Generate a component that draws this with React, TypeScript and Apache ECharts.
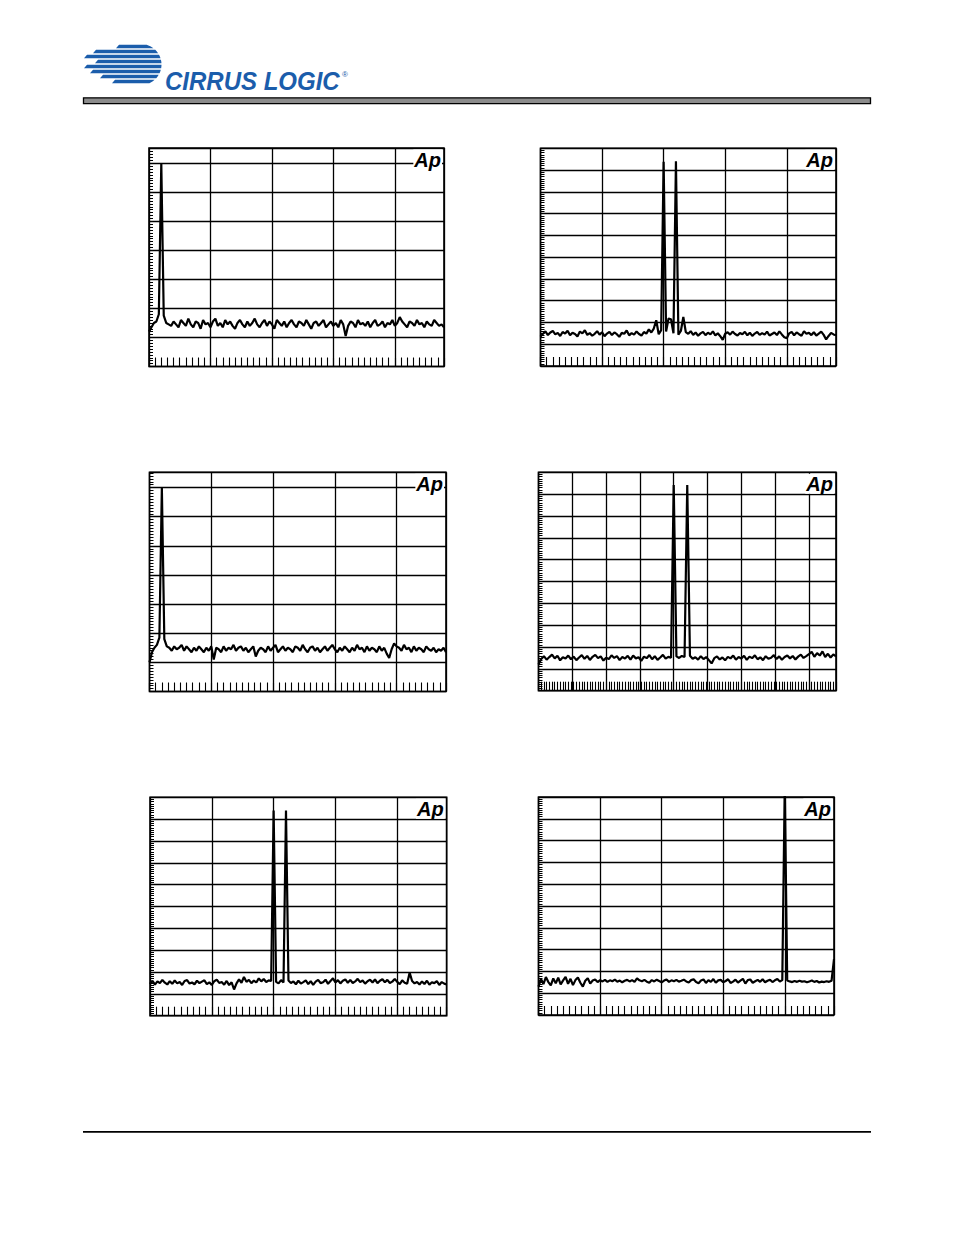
import React, { useEffect, useRef } from "react";
import * as echarts from "echarts";

// Frequency spacing of the plotted FFT points, in kHz
const FREQ_STEP_KHZ = 0.2;

// Panel 1 (top-left): 1 kHz tone, dB values from 0 to 24 kHz
const fft1 = [
  -116, -113, -110, -109, -104, 0, -105, -110,
  -111, -112, -109, -111, -113, -108, -110, -112, -107, -111,
  -113, -109, -110, -114, -108, -111, -110, -113, -109, -107,
  -112, -110, -113, -108, -111, -109, -112, -114, -110, -108,
  -111, -113, -109, -112, -110, -107, -111, -113, -110, -108,
  -112, -109, -111, -114, -108, -110, -112, -109, -113, -110,
  -108, -111, -113, -109, -110, -112, -108, -111, -114, -110,
  -109, -112, -110, -108, -113, -111, -109, -112, -110, -113,
  -108, -111, -119, -112, -109, -110, -113, -108, -111, -110,
  -112, -109, -113, -110, -108, -112, -111, -109, -113, -110,
  -111, -108, -112, -110, -106, -109, -111, -113, -109, -110,
  -112, -108, -111, -110, -113, -109, -111, -112, -108, -110,
  -112, -111, -113,
];

// Panel 2 (top-right): 10 kHz + 11 kHz twin tone, 0 to 24 kHz
const fft2 = [
  -86.5, -85.2, -84.1, -85.8, -84.6, -83.9, -85.5, -84.8, -86.2, -84.4,
  -85.1, -83.8, -85.9, -84.7, -85.3, -86.4, -84.2, -85.0, -83.6, -85.7,
  -84.9, -86.1, -85.2, -84.0, -85.6, -84.5, -86.3, -85.1, -84.3, -85.8,
  -84.6, -85.4, -86.6, -84.8, -85.2, -83.7, -85.9, -84.9, -85.6, -84.1,
  -85.3, -86.0, -84.4, -85.1, -83.2, -84.6, -82.8, -79.0, -85.4, -83.5,
  -6.2, -84.2, -78.2, -78.5, -85.0, -6.0, -85.6, -83.9, -77.5, -84.4,
  -85.2, -84.0, -85.7, -84.6, -86.1, -85.0, -84.3, -85.8, -84.7, -85.5,
  -84.1, -85.9, -85.0, -86.3, -88.0, -85.2, -84.5, -85.6, -84.2, -85.3,
  -86.0, -84.8, -85.4, -84.3, -85.9, -84.7, -86.2, -85.1, -84.4, -85.7,
  -84.9, -85.6, -84.2, -86.0, -85.3, -84.6, -85.8, -84.1, -85.5, -86.8,
  -87.2, -85.0, -84.3, -85.9, -84.6, -85.4, -86.1, -84.0, -85.2, -84.7,
  -85.8, -84.5, -86.0, -85.1, -84.2, -85.7, -87.8, -86.2, -84.8, -85.5,
  -85.9,
];

// Panel 3 (middle-left): 1 kHz tone, 0 to 24 kHz
const fft3 = [
  -120, -113, -110, -108, -103, 0, -104, -109,
  -110, -112, -109, -111, -110, -108, -112, -109, -111, -113,
  -110, -112, -109, -111, -113, -110, -112, -109, -118, -110,
  -111, -113, -109, -112, -110, -111, -108, -112, -110, -109,
  -112, -110, -113, -111, -109, -116, -112, -110, -111, -113,
  -109, -112, -110, -108, -113, -111, -109, -112, -110, -111,
  -113, -109, -110, -112, -108, -111, -113, -110, -109, -112,
  -110, -113, -111, -109, -112, -110, -108, -111, -113, -110,
  -112, -109, -111, -113, -110, -112, -108, -111, -110, -113,
  -109, -112, -110, -111, -113, -109, -112, -110, -114, -117,
  -111, -107, -109, -110, -112, -108, -111, -110, -113, -109,
  -112, -110, -111, -113, -109, -111, -112, -110, -113, -111,
  -112, -110, -113,
];

// Panel 4 (middle-right): 10 kHz + 11 kHz twin tone, 0 to 22 kHz
const fft4 = [
  -88.0, -85.5, -84.2, -85.8, -84.6, -83.5, -85.2, -84.0, -86.1, -84.7,
  -85.3, -83.9, -85.6, -84.4, -86.0, -84.8, -83.7, -85.4, -84.1, -85.9,
  -84.5, -83.6, -85.1, -84.3, -86.2, -84.9, -85.5, -83.8, -85.0, -84.2,
  -86.0, -84.6, -85.3, -84.0, -85.8, -83.9, -85.2, -84.7, -86.3, -84.4,
  -85.1, -83.7, -85.6, -84.2, -85.9, -84.8, -83.6, -85.3, -84.5, -84.9,
  -5.8, -84.3, -85.0, -84.1, -84.6, -5.8, -84.0, -85.4, -84.7, -85.8,
  -84.2, -85.5, -84.6, -86.0, -87.5, -85.1, -84.3, -85.7, -84.8, -86.1,
  -84.5, -85.2, -83.9, -85.8, -84.6, -85.3, -84.0, -85.9, -84.4, -85.1,
  -83.8, -85.6, -84.7, -86.0, -84.2, -85.4, -84.9, -83.7, -85.5, -84.3,
  -85.8, -84.6, -83.9, -85.2, -84.1, -85.7, -84.4, -83.5, -85.0, -84.2,
  -83.3, -82.2, -84.5, -82.8, -83.9, -82.0, -84.6, -83.1, -84.8, -83.4,
  -84.3,
];

// Panel 5 (bottom-left): 10 kHz + 11 kHz twin tone, 0 to 24 kHz
const fft5 = [
  -85.5, -84.0, -85.8, -84.3, -85.1, -83.6, -84.9, -85.7, -84.2, -85.4,
  -83.9, -85.2, -84.6, -85.9, -84.1, -83.7, -85.3, -84.8, -85.6, -84.0,
  -85.1, -84.4, -83.8, -85.5, -84.7, -85.9, -84.2, -83.5, -85.0, -84.6,
  -85.8, -84.1, -86.0, -84.7, -88.0, -85.2, -83.4, -84.9, -82.3, -84.5,
  -83.6, -85.1, -83.9, -84.8, -82.9, -84.3, -83.2, -84.6, -83.8, -84.1,
  -6.1, -84.5, -85.2, -83.7, -84.8, -6.1, -83.9, -85.0, -84.3, -85.6,
  -84.0, -85.3, -84.6, -83.8, -85.5, -84.2, -85.9, -84.4, -83.6, -85.1,
  -84.7, -83.5, -85.4, -84.1, -82.9, -84.8, -83.7, -85.2, -84.0, -83.4,
  -84.9, -83.6, -85.0, -84.3, -83.1, -84.6, -83.9, -85.3, -84.2, -83.5,
  -84.8, -83.4, -85.1, -84.0, -83.3, -84.7, -83.6, -85.0, -84.4, -83.2,
  -84.5, -85.6, -83.8, -84.9, -85.4, -80.3, -84.1, -85.2, -84.6, -85.7,
  -84.3, -85.5, -84.0, -85.8, -84.7, -85.1, -84.2, -85.9, -84.6, -85.3,
  -85.7,
];

// Panel 6 (bottom-right): 20 kHz tone (off scale), 0 to 24 kHz
const fft6 = [
  -87.0, -83.5, -85.8, -82.6, -84.9, -86.4, -83.2, -85.5, -82.9, -86.0,
  -84.1, -82.5, -85.7, -83.4, -86.3, -84.0, -82.8, -85.2, -87.0, -84.3,
  -83.1, -85.6, -84.2, -83.7, -84.9, -84.0, -84.6, -83.9, -84.8, -84.1,
  -84.5, -83.8, -84.7, -84.2, -85.0, -84.3, -83.9, -84.6, -84.0, -84.8,
  -83.2, -84.1, -84.5, -83.9, -84.7, -85.2, -84.0, -84.6, -83.8, -84.4,
  -85.0, -84.2, -83.7, -84.8, -84.1, -84.5, -83.9, -84.7, -84.3, -83.8,
  -84.6, -85.1, -84.0, -83.6, -84.9, -85.4, -84.2, -83.7, -85.3, -84.0,
  -84.8, -83.5, -85.2, -84.1, -83.9, -85.0, -84.4, -83.6, -85.3, -84.7,
  -83.8, -85.1, -84.2, -83.4, -85.6, -84.0, -83.7, -85.2, -84.5, -83.9,
  -84.8, -83.6, -85.0, -84.3, -83.8, -84.9, -84.1, -83.5, -84.6, -84.0,
  5.0, -84.2, -84.6, -84.9, -84.4, -84.8, -84.3, -84.7, -84.5, -85.0,
  -84.6, -84.2, -84.8, -84.4, -85.1, -84.7, -84.9, -84.5, -84.8, -84.3,
  -74.4,
];

// Axis scales (kHz / dB)
const SCALE_A = { xMax: 24, xStep: 5, xMinor: 0.5, yMin: -140, yMax: 10.5, yStep: 20, yMinor: 2 };
const SCALE_B = { xMax: 24, xStep: 5, xMinor: 0.5, yMin: -100, yMax: 0, yStep: 10, yMinor: 1 };
const SCALE_C = { xMax: 22, xStep: 2.5, xMinor: 0.2, yMin: -100, yMax: 0, yStep: 10, yMinor: 1 };

// Panel layout (pixels)
const panels = [
  { data: fft1, scale: SCALE_A, left: 149, top: 148, right: 444, bottom: 366.5 },
  { data: fft2, scale: SCALE_B, left: 540.5, top: 148.3, right: 836, bottom: 366 },
  { data: fft3, scale: SCALE_A, left: 149.5, top: 472.3, right: 446, bottom: 691.5 },
  { data: fft4, scale: SCALE_C, left: 538.5, top: 472.3, right: 836, bottom: 690.7 },
  { data: fft5, scale: SCALE_B, left: 150, top: 797.3, right: 446.7, bottom: 1015.7 },
  { data: fft6, scale: SCALE_B, left: 538.5, top: 797, right: 834, bottom: 1015 },
];

// Cirrus Logic stripe mark
function buildLogoPath(): string {
  const cx = 141, cy = 64.5, r = 20.5, h = 3.4;
  const stripes = [
    { y: 44.8, left: 116 },
    { y: 49.8, left: 93 },
    { y: 54.8, left: 84 },
    { y: 59.8, left: 95 },
    { y: 64.8, left: 84 },
    { y: 69.8, left: 90 },
    { y: 74.8, left: 100 },
    { y: 79.8, left: 112 },
  ];
  const xr = (y: number) => cx + Math.sqrt(Math.max(0, r * r - (y - cy) * (y - cy)));
  let d = "";
  for (const s of stripes) {
    const y0 = s.y, y1 = s.y + h;
    const ym = (y0 + y1) / 2;
    d += `M${(s.left + 3).toFixed(2)} ${y0.toFixed(2)} L${xr(y0).toFixed(2)} ${y0.toFixed(2)} L${xr(ym).toFixed(2)} ${ym.toFixed(2)} L${xr(y1).toFixed(2)} ${y1.toFixed(2)} L${s.left.toFixed(2)} ${y1.toFixed(2)} Z `;
  }
  return d;
}
echarts.graphic.registerShape("cirrusLogo", echarts.graphic.extendPath(buildLogoPath(), {}) as any);

export default function App() {
  const ref = useRef<HTMLDivElement>(null);

  useEffect(() => {
    document.body.style.margin = "0";
    document.body.style.overflow = "hidden";
    if (!ref.current) return;
    const chart = echarts.init(ref.current, undefined, { renderer: "svg" });

    const grids: any[] = [];
    const xAxes: any[] = [];
    const yAxes: any[] = [];
    const series: any[] = [];
    const graphics: any[] = [];

    panels.forEach((p, i) => {
      const s = p.scale;
      grids.push({
        left: p.left,
        top: p.top,
        width: p.right - p.left,
        height: p.bottom - p.top,
        show: true,
        backgroundColor: "#fff",
        borderColor: "#000",
        borderWidth: 1.6,
      });
      const noLine = { axisLine: { show: false, onZero: false }, axisLabel: { show: false } };
      // tick axes (minor divisions) on bottom / left
      xAxes.push({
        type: "value", gridIndex: i, position: "bottom", min: 0, max: s.xMax, interval: s.xMinor,
        ...noLine, splitLine: { show: false },
        axisTick: { show: true, inside: true, length: 9, lineStyle: { color: "#000", width: 1.1 } },
      });
      // grid-line axes on top / right
      xAxes.push({
        type: "value", gridIndex: i, position: "top", min: 0, max: s.xMax, interval: s.xStep,
        ...noLine, axisTick: { show: false },
        splitLine: { show: true, lineStyle: { color: "#000", width: 1.3 } },
      });
      yAxes.push({
        type: "value", gridIndex: i, position: "left", min: s.yMin, max: s.yMax, interval: s.yMinor,
        ...noLine, splitLine: { show: false },
        axisTick: { show: true, inside: true, length: 4, lineStyle: { color: "#000", width: 1 } },
      });
      yAxes.push({
        type: "value", gridIndex: i, position: "right", min: s.yMin, max: s.yMax, interval: s.yStep,
        ...noLine, axisTick: { show: false },
        splitLine: { show: true, lineStyle: { color: "#000", width: 1.3 } },
      });
      series.push({
        type: "line",
        xAxisIndex: i * 2,
        yAxisIndex: i * 2,
        data: p.data.map((v, k) => [+(k * FREQ_STEP_KHZ).toFixed(2), v]),
        showSymbol: false,
        clip: true,
        lineStyle: { color: "#000", width: 2.2, join: "bevel" },
        z: 5,
      });
      graphics.push({
        type: "text",
        x: p.right - 2,
        y: p.top + 1.5,
        z: 100,
        style: {
          text: "Ap",
          fontFamily: "Liberation Sans",
          fontWeight: "bold",
          fontStyle: "italic",
          fontSize: 20,
          fill: "#000",
          textAlign: "right",
          textVerticalAlign: "top",
          backgroundColor: "#fff",
          padding: [0, 1, 0, 1],
        },
      });
    });

    // Header
    graphics.push({ type: "cirrusLogo", x: 0, y: 0, z: 100, style: { fill: "#1b5dab" } });
    graphics.push({
      type: "text", x: 165, y: 81.5, z: 100, scaleX: 0.96,
      style: {
        text: "CIRRUS LOGIC",
        fontFamily: "Liberation Sans",
        fontWeight: "bold",
        fontStyle: "italic",
        fontSize: 25,
        fill: "#1b5dab",
        textVerticalAlign: "middle",
      },
    });
    graphics.push({
      type: "text", x: 342, y: 74, z: 100,
      style: { text: "®", fontFamily: "Liberation Sans", fontSize: 8, fill: "#1b5dab", textVerticalAlign: "middle" },
    });
    graphics.push({
      type: "rect", z: 100,
      shape: { x: 83.5, y: 97.8, width: 787, height: 5.8 },
      style: { fill: "#8c8c8c", stroke: "#000", lineWidth: 1.3 },
    });
    // Footer rule
    graphics.push({
      type: "rect", z: 100,
      shape: { x: 83, y: 1131, width: 788, height: 1.8 },
      style: { fill: "#000" },
    });

    chart.setOption({
      animation: false,
      backgroundColor: "#fff",
      grid: grids,
      xAxis: xAxes,
      yAxis: yAxes,
      series,
      graphic: graphics,
    });

    return () => chart.dispose();
  }, []);

  return <div ref={ref} style={{ width: 954, height: 1235 }} />;
}
